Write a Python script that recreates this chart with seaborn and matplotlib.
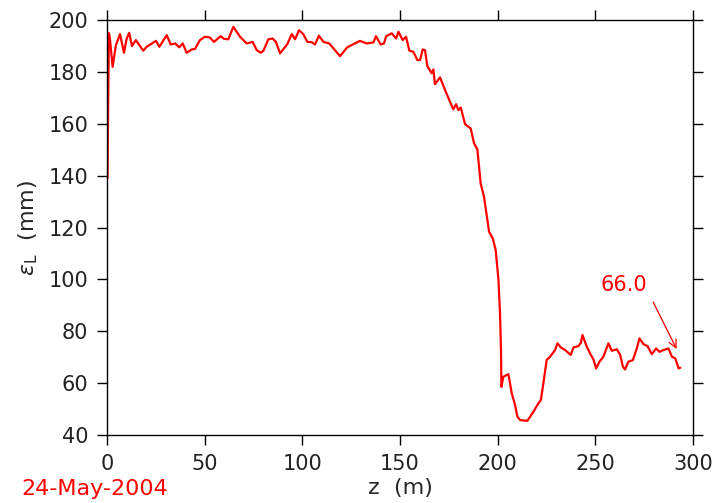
import matplotlib
matplotlib.use("Agg")
import matplotlib.pyplot as plt
import seaborn as sns
import pandas as pd

# position along the beam line (m)
z = [0.3, 0.6, 1.0, 1.5, 2.9, 4.6, 6.7, 8.7, 10.1, 11.4, 12.8, 14.8, 18.6, 20.3,
     23.7, 25.1, 26.8, 30.6, 32.6, 35.0, 37.0, 38.8, 40.8, 43.4, 45.1, 47.6,
     50.2, 52.7, 54.8, 58.2, 59.9, 62.1, 64.7, 68.1, 71.5, 74.6, 76.7, 78.7,
     80.1, 82.6, 84.8, 86.5, 88.6, 92.3, 94.6, 96.3, 98.3, 100.5, 102.6, 104.8,
     106.5, 108.5, 110.8, 113.8, 119.3, 123.0, 129.5, 133.0, 136.4, 137.7,
     140.1, 141.8, 142.9, 145.8, 148.0, 149.2, 151.4, 153.1, 154.8, 156.8,
     158.9, 160.3, 161.6, 162.8, 164.0, 166.2, 167.1, 167.9, 170.5, 173.1,
     175.6, 177.3, 178.7, 179.9, 181.1, 183.3, 186.2, 187.9, 189.6, 191.3,
     193.0, 195.6, 197.5, 199.0, 200.4, 201.2, 201.7, 201.9, 202.9, 205.5,
     207.2, 208.9, 210.1, 211.5, 215.2, 218.3, 220.8, 222.1, 223.4, 225.1,
     226.8, 229.4, 230.6, 232.3, 234.5, 237.4, 238.8, 241.3, 242.6, 243.4,
     245.6, 247.7, 249.0, 250.4, 252.1, 254.1, 256.7, 258.4, 261.0, 262.7,
     264.1, 265.2, 266.9, 269.2, 271.2, 272.6, 274.6, 276.7, 278.9, 281.1,
     282.8, 284.9, 287.4, 289.2, 290.9, 292.6, 293.5]

# longitudinal emittance (mm)
eps = [139, 166, 195, 193, 182, 190.4, 194.6, 187.4, 192.9, 195.1, 190, 192.3,
       188.2, 189.7, 191.3, 192, 189.7, 194.2, 190.6, 191, 189.5, 191, 187.4,
       188.7, 188.9, 192.3, 193.6, 193.3, 191.6, 193.8, 192.8, 192.6, 197.4,
       193.6, 191, 191.6, 188.4, 187.4, 188.2, 192.6, 192.9, 191.6, 187.2,
       190.7, 194.6, 192.6, 196.1, 194.6, 191.6, 191.5, 190.6, 194, 191.6,
       191, 186.1, 189.5, 192, 191, 191.4, 193.8, 190.6, 191, 193.8, 194.9,
       192.9, 195.5, 192.3, 193.6, 188.2, 187.8, 184.6, 184.6, 188.7, 188.4,
       182.3, 179.5, 181, 175.3, 177.9, 173, 168.5, 165.6, 167.6, 165.3, 166.3,
       159.9, 158.2, 152.5, 150.2, 137, 131.9, 118.4, 115.8, 111.3, 99.8, 87,
       72.8, 58.6, 62.5, 63.5, 56.1, 51.6, 47.1, 45.8, 45.5, 49, 52.2, 53.5,
       60, 69, 70.2, 72.8, 75.4, 73.8, 72.8, 70.9, 73.8, 74.3, 75.6, 78.6,
       74.1, 70.9, 69.2, 65.7, 68.3, 70.2, 75.4, 72.5, 73.1, 70.9, 66.4, 65.3,
       68.3, 68.9, 73.4, 77.3, 75.1, 74.3, 71.2, 73.4, 72.1, 72.8, 73.4, 70.2,
       69.6, 65.7, 66]

last_label = "66.0"
date_label = "24-May-2004"

sns.set_style("ticks")
plt.rcParams["font.family"] = ["DejaVu Sans"]

fig = plt.figure(figsize=(7.13, 5.03), dpi=100)
ax = fig.add_axes([0.150, 0.135, 0.822, 0.825])

df = pd.DataFrame({"z": z, "eps": eps})
sns.lineplot(data=df, x="z", y="eps", ax=ax, color="#ff0000", lw=1.6,
             sort=False, estimator=None)

ax.set_xlim(0, 300)
ax.set_ylim(40, 200)
ax.set_xticks(range(0, 301, 50))
ax.set_yticks(range(40, 201, 20))
ax.tick_params(axis="both", which="both", direction="out", length=7.5,
               width=1.0, labelsize=15, labelcolor="#222222", color="black",
               top=True, right=True, pad=6)
for s in ax.spines.values():
    s.set_visible(True)
    s.set_linewidth(1.0)
    s.set_color("black")

ax.set_xlabel("z  (m)", fontsize=16, labelpad=3)
ax.set_ylabel(r"$\epsilon_{\rm L}$  (mm)", fontsize=16, labelpad=6)

# label and arrow pointing at the last value
ax.text(264.7, 97.8, last_label, color="#ff0000", fontsize=15,
        ha="center", va="center")
ax.annotate("", xy=(291.6, 73.2), xytext=(279.6, 91.3),
            arrowprops=dict(arrowstyle="->", color="#ff0000", lw=0.9,
                            shrinkA=0, shrinkB=0, mutation_scale=14))

fig.text(0.03, 0.028, date_label, color="#ff0000", fontsize=16,
         ha="left", va="center")

fig.savefig("out.png", dpi=100)
